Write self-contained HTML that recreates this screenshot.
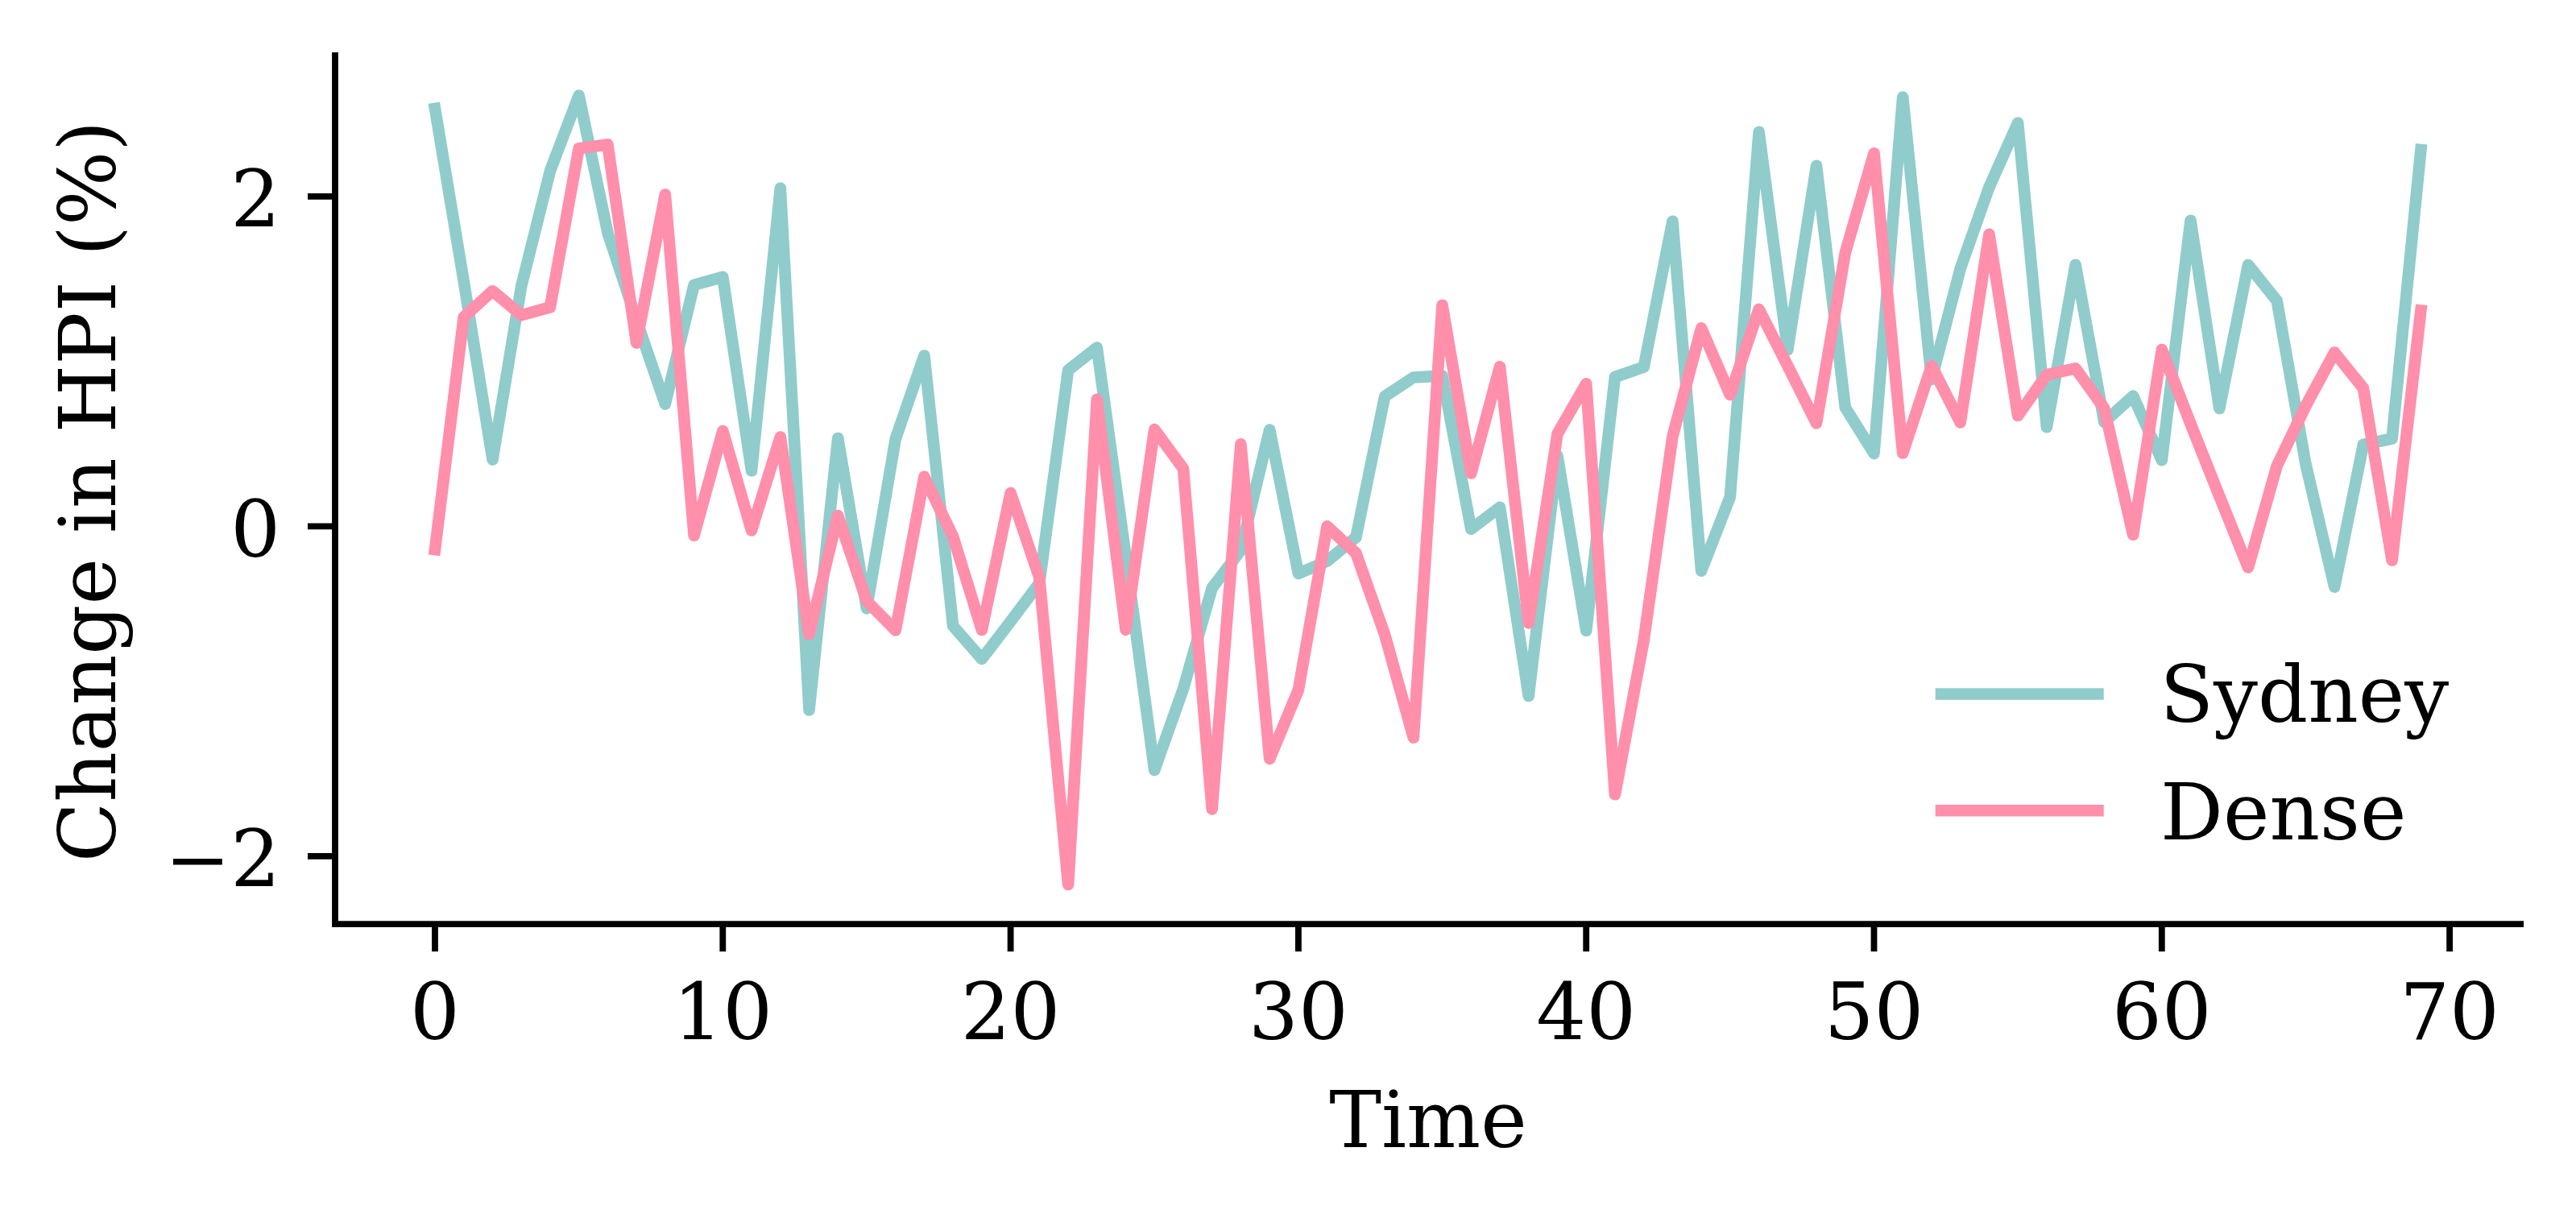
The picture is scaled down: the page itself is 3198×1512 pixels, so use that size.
<!DOCTYPE html>
<html lang="en"><head><meta charset="utf-8"><title>Change in HPI</title>
<style>
html,body{margin:0;padding:0;background:#fff;}
body{width:3198px;height:1512px;overflow:hidden;}
svg{display:block;}
text{font-family:"DejaVu Serif","Liberation Serif",serif;font-size:97.2px;fill:#000;}
</style></head><body>
<svg width="3198" height="1512" viewBox="0 0 3198 1512">
<rect width="3198" height="1512" fill="#fff"/>
<g fill="none" stroke-width="14.6" stroke-linejoin="round" stroke-linecap="square">
<polyline stroke="#90CCCB" points="540.0,134.8 575.7,348.9 611.5,570.6 647.2,355.3 682.9,212.4 718.6,118.5 754.4,288.8 790.1,397.1 825.8,501.6 861.6,353.8 897.3,343.9 933.0,584.4 968.8,233.6 1004.5,881.5 1040.2,544.0 1075.9,755.4 1111.7,545.0 1147.4,441.5 1183.1,777.0 1218.9,818.0 1254.6,771.4 1290.3,724.0 1326.1,459.6 1361.8,431.5 1397.5,690.0 1433.2,956.0 1469.0,855.0 1504.7,730.0 1540.4,683.0 1576.2,533.5 1611.9,712.0 1647.6,696.6 1683.4,667.0 1719.1,492.1 1754.8,468.5 1790.5,466.5 1826.3,656.8 1862.0,629.7 1897.7,864.0 1933.5,566.0 1969.2,782.9 2004.9,468.0 2040.7,455.6 2076.4,274.7 2112.1,708.6 2147.8,617.0 2183.6,163.7 2219.3,434.4 2255.0,205.8 2290.8,505.8 2326.5,563.0 2362.2,120.6 2398.0,471.0 2433.7,333.4 2469.4,232.4 2505.1,152.5 2540.9,530.2 2576.6,328.8 2612.3,524.0 2648.1,491.6 2683.8,571.2 2719.5,273.7 2755.3,507.0 2791.0,328.8 2826.7,373.4 2862.4,576.0 2898.2,728.6 2933.9,552.0 2969.6,544.5 3005.4,186.1"/>
<polyline stroke="#FF8FAB" points="540.0,682.1 575.7,393.7 611.5,361.2 647.2,391.2 682.9,381.4 718.6,184.3 754.4,179.4 790.1,425.7 825.8,241.5 861.6,664.8 897.3,535.0 933.0,658.4 968.8,542.5 1004.5,787.4 1040.2,640.1 1075.9,746.0 1111.7,782.5 1147.4,591.8 1183.1,665.8 1218.9,782.0 1254.6,612.0 1290.3,717.0 1326.1,1098.1 1361.8,495.8 1397.5,781.8 1433.2,533.0 1469.0,581.8 1504.7,1004.5 1540.4,551.4 1576.2,942.0 1611.9,856.4 1647.6,653.3 1683.4,686.7 1719.1,787.7 1754.8,915.8 1790.5,378.8 1826.3,587.6 1862.0,455.2 1897.7,773.4 1933.5,538.5 1969.2,476.3 2004.9,986.3 2040.7,794.8 2076.4,542.0 2112.1,407.3 2147.8,490.0 2183.6,383.9 2219.3,454.1 2255.0,525.5 2290.8,313.7 2326.5,190.3 2362.2,562.5 2398.0,454.1 2433.7,524.5 2469.4,290.8 2505.1,516.0 2540.9,465.2 2576.6,457.3 2612.3,506.8 2648.1,663.8 2683.8,434.0 2719.5,526.0 2755.3,616.0 2791.0,704.4 2826.7,578.3 2862.4,504.0 2898.2,437.5 2933.9,481.8 2969.6,695.6 3005.4,385.5"/>
</g>
<g stroke="#000" stroke-width="7.8" fill="none" stroke-linecap="square">
<path d="M416.0,68.9 V1147.2 H3129.1"/>
</g>
<g stroke="#000" stroke-width="7.8" stroke-linecap="butt">
<line x1="540.0" y1="1147.2" x2="540.0" y2="1181.2"/>
<line x1="897.3" y1="1147.2" x2="897.3" y2="1181.2"/>
<line x1="1254.6" y1="1147.2" x2="1254.6" y2="1181.2"/>
<line x1="1611.9" y1="1147.2" x2="1611.9" y2="1181.2"/>
<line x1="1969.2" y1="1147.2" x2="1969.2" y2="1181.2"/>
<line x1="2326.5" y1="1147.2" x2="2326.5" y2="1181.2"/>
<line x1="2683.8" y1="1147.2" x2="2683.8" y2="1181.2"/>
<line x1="3041.1" y1="1147.2" x2="3041.1" y2="1181.2"/>
<line x1="416.0" y1="243.9" x2="382.0" y2="243.9"/>
<line x1="416.0" y1="653.4" x2="382.0" y2="653.4"/>
<line x1="416.0" y1="1062.9" x2="382.0" y2="1062.9"/>
</g>
<g text-anchor="middle">
<text x="540.0" y="1290.3">0</text>
<text x="897.3" y="1290.3">10</text>
<text x="1254.6" y="1290.3">20</text>
<text x="1611.9" y="1290.3">30</text>
<text x="1969.2" y="1290.3">40</text>
<text x="2326.5" y="1290.3">50</text>
<text x="2683.8" y="1290.3">60</text>
<text x="3041.1" y="1290.3">70</text>
<text x="1773" y="1423.8">Time</text>
</g>
<g text-anchor="end">
<text x="348" y="281.2">2</text>
<text x="348" y="690.7">0</text>
<text x="348" y="1100.2">−2</text>
</g>
<text text-anchor="middle" transform="translate(142.5,610) rotate(-90)">Change in HPI (%)</text>
<g fill="none" stroke-width="14.6" stroke-linecap="square">
<line x1="2410" y1="861.5" x2="2604.4" y2="861.5" stroke="#90CCCB"/>
<line x1="2410" y1="1006.3" x2="2604.4" y2="1006.3" stroke="#FF8FAB"/>
</g>
<text x="2681.5" y="896">Sydney</text>
<text x="2682" y="1042">Dense</text>
</svg>
</body></html>
